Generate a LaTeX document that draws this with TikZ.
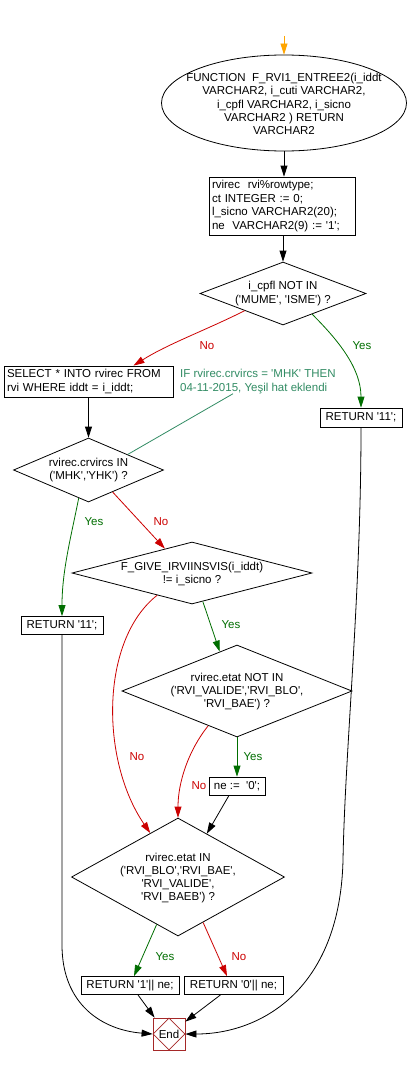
\documentclass[tikz,border=0pt]{standalone}
\usepackage{fontspec}
\setmainfont{Liberation Sans}[Ligatures=TeXOff]
\usetikzlibrary{shapes.geometric,arrows.meta,calc}
\definecolor{noclr}{RGB}{204,0,0}
\definecolor{yesclr}{RGB}{0,110,0}
\definecolor{cmclr}{RGB}{50,140,100}
\definecolor{endclr}{RGB}{165,40,40}
\definecolor{orng}{RGB}{255,165,0}
\begin{document}
\begin{tikzpicture}[x=1pt,y=-1pt,
  txt/.style={font=\fontsize{11.5}{13.3}\selectfont, inner sep=0pt, align=center},
  box/.style={draw, line width=0.8pt, inner sep=0pt, font=\fontsize{11.5}{13.5}\selectfont},
  lbox/.style={box, inner xsep=3pt, align=left},
  dia/.style={draw, diamond, line width=0.8pt, inner sep=0pt},
  conn/.style={line width=0.8pt, -{Triangle[length=11pt,width=7pt]}},
  noc/.style={conn, color=noclr},
  yesc/.style={conn, color=yesclr},
  lblno/.style={txt, text=noclr},
  lblyes/.style={txt, text=yesclr}]
\fill[white] (0,0) rectangle (408,1065);
\useasboundingbox (0,0) rectangle (408,1065);

% start
\coordinate (st) at (284,36);
\node[draw, ellipse, line width=0.8pt, inner sep=0pt, minimum width=245pt, minimum height=96pt] (e1) at (284,103) {};
\node[txt] (e1t) at (284,104) {FUNCTION\ \ F\_RVI1\_ENTREE2(i\_iddt\\VARCHAR2, i\_cuti VARCHAR2,\\i\_cpfl VARCHAR2, i\_sicno\\VARCHAR2 ) RETURN\\VARCHAR2};

\node[lbox, minimum width=146pt, minimum height=58pt, text width=140pt] (b1) at (282,206) {rvirec\ \ rvi\%rowtype;\\ct INTEGER := 0;\\l\_sicno VARCHAR2(20);\\ne\ \ VARCHAR2(9) := '1';};

\node[dia, minimum width=166pt, minimum height=63pt] (d1) at (283,293.5) {};
\node[txt] (d1t) at (d1) {i\_cpfl NOT IN\\('MUME', 'ISME') ?};

\node[lbox, minimum width=169pt, minimum height=31pt, text width=163pt] (sel) at (88.5,381.5) {SELECT * INTO rvirec FROM\\rvi WHERE iddt = i\_iddt;};

\node[box, minimum width=82pt, minimum height=19pt] (r1) at (361,417.5) {RETURN '11';};

\node[txt, text=cmclr, align=left, anchor=west] (cm) at (180,381.5) {IF rvirec.crvircs = 'MHK' THEN\\04-11-2015, Yeşil hat eklendi};

\node[dia, minimum width=150pt, minimum height=64pt] (d2) at (88.5,470) {};
\node[txt] (d2t) at (d2) {rvirec.crvircs IN\\('MHK','YHK') ?};

\node[box, minimum width=82pt, minimum height=18pt] (r2) at (62,625.5) {RETURN '11';};

\node[dia, minimum width=240pt, minimum height=62pt] (d3) at (192,573) {};
\node[txt] (d3t) at (192,574) {F\_GIVE\_IRVIINSVIS(i\_iddt)\\!= i\_sicno ?};

\node[dia, minimum width=230pt, minimum height=92pt] (d4) at (237,691) {};
\node[txt] (d4t) at (237,691.5) {rvirec.etat NOT IN\\('RVI\_VALIDE','RVI\_BLO',\\'RVI\_BAE') ?};

\node[box, minimum width=56pt, minimum height=18pt] (ne) at (237,786) {ne :=\ \ '0';};

\node[dia, minimum width=213pt, minimum height=118pt] (d5) at (178,877) {};
\node[txt] (d5t) at (178,878) {rvirec.etat IN\\('RVI\_BLO','RVI\_BAE',\\'RVI\_VALIDE',\\'RVI\_BAEB') ?};

\node[box, minimum width=98pt, minimum height=18pt] (r3) at (130,985.5) {RETURN '1'|| ne;};
\node[box, minimum width=99pt, minimum height=18pt] (r4) at (233.5,985.5) {RETURN '0'|| ne;};

\node[draw=endclr, line width=0.8pt, minimum width=32pt, minimum height=32pt, inner sep=0pt] (fin) at (169,1034) {};
\node[dia, draw=endclr, minimum width=32pt, minimum height=32pt] (findia) at (fin) {};
\node[txt] (fint) at (fin) {End};

% labels
\node[lblno] (l1) at (207,346) {No};
\node[lblyes] (l2) at (362,346) {Yes};
\node[lblyes] (l3) at (94,522) {Yes};
\node[lblno] (l4) at (161,522) {No};
\node[lblyes] (l5) at (231,625) {Yes};
\node[lblno] (l6) at (137,757) {No};
\node[lblyes] (l7) at (253,757) {Yes};
\node[lblno] (l8) at (199,786) {No};
\node[lblyes] (l9) at (165,957) {Yes};
\node[lblno] (l10) at (239,957) {No};

% connectors
\draw[conn, color=orng] (st) -- (e1.north);
\draw[conn] (e1.south) -- (e1.south |- b1.north);
\draw[conn] (d1.north |- b1.south) -- (d1.north);
\draw[noc] ($(d1.south)!0.46!(d1.west)$) .. controls +(-40,20) and +(35,-22) .. ([xshift=45pt]sel.north);
\draw[yesc] ($(d1.south)!0.35!(d1.east)$) .. controls +(25,25) and +(0,-40) .. (r1.north);
\draw[cmclr, line width=0.8pt] ([xshift=53pt]cm.south west) -- ($(d2.north)!0.52!(d2.east)$);
\draw[conn] (sel.south) -- (d2.north);
\draw[yesc] ($(d2.south)!0.13!(d2.west)$) .. controls +(-8,40) and +(0,-45) .. (r2.north);
\draw[noc] ($(d2.south)!0.32!(d2.east)$) -- ($(d3.north)!0.225!(d3.west)$);
\draw[yesc] ($(d3.south)!0.09!(d3.east)$) -- ($(d4.north)!0.15!(d4.west)$);
\draw[noc] ($(d3.south)!0.29!(d3.west)$) .. controls +(-57,45) and +(-50,-73) .. ($(d5.north)!0.26!(d5.west)$);
\draw[yesc] (d4.south) -- (ne.north);
\draw[noc] ($(d4.south)!0.25!(d4.west)$) .. controls +(-20,25) and +(0,-35) .. (d5.north);
\draw[conn] ([xshift=-8pt]ne.south) -- ($(d5.north)!0.27!(d5.east)$);
\draw[yesc] ($(d5.south)!0.2!(d5.west)$) -- ([xshift=4pt]r3.north);
\draw[noc] ($(d5.south)!0.235!(d5.east)$) -- ([xshift=-6.5pt]r4.north);
\draw[conn] ([xshift=8pt]r3.south) -- ([xshift=2pt]fin.north west);
\draw[conn] ([xshift=-13pt]r4.south) -- ([yshift=-4pt]fin.north east);
\draw[conn] (r2.south) -- ++(0,310) .. controls +(0,60) and +(-50,-4) .. (fin.west);
\coordinate (rbend) at (343,860);
\draw[conn] (r1.south) .. controls +(0,170) and +(2,-110) .. (rbend) .. controls +(-3,130) and +(75,0) .. (fin.east);
\end{tikzpicture}
\end{document}
